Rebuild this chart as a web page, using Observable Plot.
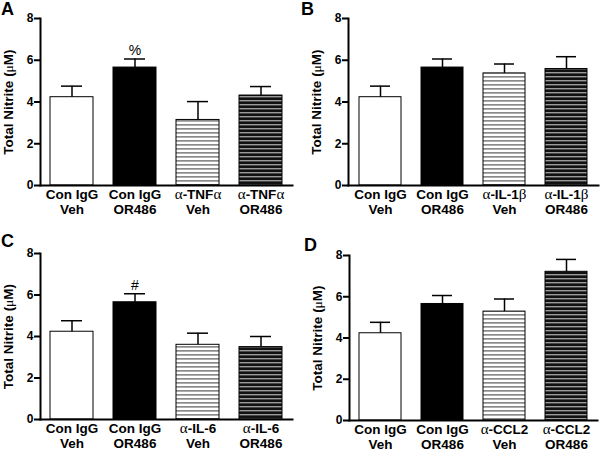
<!DOCTYPE html>
<html>
<head>
<meta charset="utf-8">
<script src="https://cdn.jsdelivr.net/npm/d3@7"></script>
<script src="https://cdn.jsdelivr.net/npm/@observablehq/plot@0.6"></script>
<style>
  html, body { margin: 0; padding: 0; background: #fff; }
  #wrap { position: relative; width: 600px; height: 452px; overflow: hidden; }
  #wrap svg.panel { position: absolute; }
  g[aria-label="y-axis label"] { font-size: 13.5px; }
  #letters { position: absolute; left: 0; top: 0; }
</style>
</head>
<body>
<div id="wrap">
  <svg id="letters" width="600" height="452"></svg>
</div>
<script>
// ---------- data ----------
const panelLetters = ["A", "B", "C", "D"];
const groupsA = ["Con IgG\nVeh", "Con IgG\nOR486", "α-TNFα\nVeh", "α-TNFα\nOR486"];
const groupsB = ["Con IgG\nVeh", "Con IgG\nOR486", "α-IL-1β\nVeh", "α-IL-1β\nOR486"];
const groupsC = ["Con IgG\nVeh", "Con IgG\nOR486", "α-IL-6\nVeh", "α-IL-6\nOR486"];
const groupsD = ["Con IgG\nVeh", "Con IgG\nOR486", "α-CCL2\nVeh", "α-CCL2\nOR486"];
const meansA = [4.23, 5.65, 3.14, 4.31];
const semA   = [0.53, 0.41, 0.88, 0.43];
const meansB = [4.23, 5.65, 5.37, 5.58];
const semB   = [0.53, 0.41, 0.45, 0.59];
const meansC = [4.23, 5.65, 3.60, 3.49];
const semC   = [0.53, 0.41, 0.56, 0.51];
const meansD = [4.23, 5.65, 5.28, 7.21];
const semD   = [0.53, 0.41, 0.61, 0.60];
const barStyles = ["open", "solid", "lightStripe", "darkStripe"];
const marksA = ["", "%", "", ""];
const marksB = ["", "", "", ""];
const marksC = ["", "#", "", ""];
const marksD = ["", "", "", ""];
const yTicks = [0, 2, 4, 6, 8];
const yLabel = "Total Nitrite (μM)";

// ---------- layout ----------
const panels = [
  {id: "A", groups: groupsA, means: meansA, sem: semA, notes: marksA, left: 0,   top: 0,   m: [18, 8, 41, 40]},
  {id: "B", groups: groupsB, means: meansB, sem: semB, notes: marksB, left: 300, top: 0,   m: [18, 2, 41, 48]},
  {id: "C", groups: groupsC, means: meansC, sem: semC, notes: marksC, left: 0,   top: 226, m: [27, 8, 33, 40]},
  {id: "D", groups: groupsD, means: meansD, sem: semD, notes: marksD, left: 300, top: 226, m: [29, 3, 32, 49]}
];
const letterPos = {A: [1, 15], B: [301, 15], C: [1, 247], D: [304, 251]};

const SANS = "'Liberation Sans', Arial, Helvetica, sans-serif";
const SERIF = "'Liberation Serif', 'Times New Roman', serif";
const NS = "http://www.w3.org/2000/svg";

function styleGreek(svg) {
  const nodes = [...svg.querySelectorAll("text, tspan")].filter(n =>
    n.childNodes.length === 1 && n.firstChild.nodeType === 3 && /[αβμ]/.test(n.textContent));
  for (const n of nodes) {
    const s = n.textContent;
    const big = /[αβ]/.test(s);
    n.textContent = "";
    for (const part of s.split(/([αβμ])/)) {
      if (!part) continue;
      if (/[αβμ]/.test(part)) {
        const t = document.createElementNS(NS, "tspan");
        t.setAttribute("font-family", SERIF);
        t.setAttribute("font-weight", "normal");
        if (big) t.setAttribute("font-size", "1.12em");
        t.textContent = part;
        n.appendChild(t);
      } else n.appendChild(document.createTextNode(part));
    }
  }
}

function addPatterns(svg, id) {
  const defs = document.createElementNS(NS, "defs");
  defs.innerHTML = `
    <pattern id="light-${id}" patternUnits="userSpaceOnUse" width="8" height="4">
      <rect width="8" height="4" fill="#ffffff"/>
      <rect y="0" width="8" height="1.7" fill="#8a8a8a"/>
    </pattern>
    <pattern id="dark-${id}" patternUnits="userSpaceOnUse" width="8" height="4">
      <rect width="8" height="4" fill="#111111"/>
      <rect y="0" width="8" height="1.4" fill="#9a9a9a"/>
    </pattern>`;
  svg.insertBefore(defs, svg.firstChild);
}

const wrap = document.getElementById("wrap");

for (const p of panels) {
  const data = p.groups.map((g, i) => ({
    group: g, mean: p.means[i], top: p.means[i] + p.sem[i], style: barStyles[i], note: p.notes[i]
  }));
  const fills = {
    open: "white",
    solid: "black",
    lightStripe: `url(#light-${p.id})`,
    darkStripe: `url(#dark-${p.id})`
  };
  const [mt, mr, mb, ml] = p.m;
  const svg = Plot.plot({
    width: 300,
    height: 226,
    marginTop: mt, marginRight: mr, marginBottom: mb, marginLeft: ml,
    style: {fontFamily: SANS, fontWeight: "bold", fontSize: "12px", color: "black", background: "transparent"},
    x: {domain: p.groups, paddingInner: 0.32, paddingOuter: 0.16, align: 0.5},
    y: {domain: [0, 8]},
    marks: [
      ...barStyles.map(s => Plot.barY(data, {
        filter: d => d.style === s, x: "group", y: "mean",
        fill: fills[s], stroke: "black", strokeWidth: 1
      })),
      Plot.ruleX(data, {x: "group", y1: "mean", y2: "top", stroke: "black", strokeWidth: 1.5}),
      Plot.tickY(data, {x: "group", y: "top", stroke: "black", strokeWidth: 1.5, insetLeft: 11, insetRight: 11}),
      Plot.text(data.filter(d => d.note), {
        x: "group", y: "top", text: "note", lineAnchor: "bottom", dy: -3.5,
        fontSize: 14, fontWeight: "normal", fill: "black"
      }),
      Plot.frame({anchor: "left", strokeWidth: 2, stroke: "black"}),
      Plot.frame({anchor: "bottom", strokeWidth: 2, stroke: "black"}),
      Plot.axisY({
        ticks: yTicks, tickSize: 6, tickPadding: 1, strokeWidth: 2,
        label: yLabel, labelAnchor: "center", labelArrow: "none", labelOffset: 37, fontSize: 12
      }),
      Plot.axisX({tickSize: 0, tickPadding: 3, fontSize: 13.5, lineHeight: 1.12, label: null})
    ]
  });
  svg.classList.add("panel");
  svg.style.left = p.left + "px";
  svg.style.top = p.top + "px";
  addPatterns(svg, p.id);
  styleGreek(svg);
  wrap.appendChild(svg);
}

const letters = document.getElementById("letters");
for (const L of panelLetters) {
  const t = document.createElementNS(NS, "text");
  t.setAttribute("x", letterPos[L][0]);
  t.setAttribute("y", letterPos[L][1]);
  t.setAttribute("font-family", SANS);
  t.setAttribute("font-weight", "bold");
  t.setAttribute("font-size", "18");
  t.textContent = L;
  letters.appendChild(t);
}
wrap.appendChild(letters);
</script>
</body>
</html>
